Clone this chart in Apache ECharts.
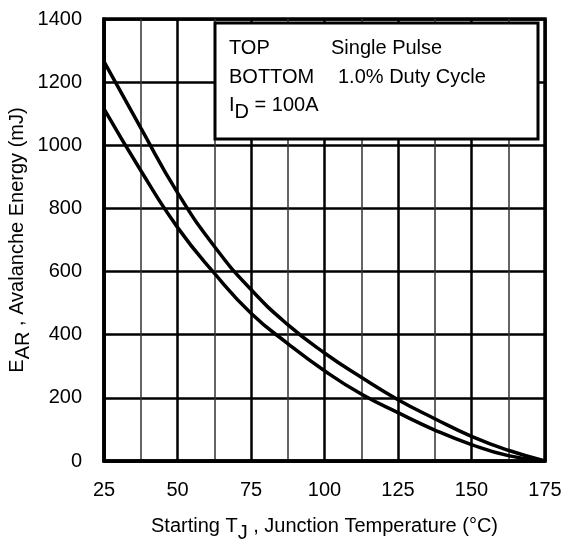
<!DOCTYPE html>
<html>
<head>
<meta charset="utf-8">
<script src="https://cdn.jsdelivr.net/npm/echarts@6/dist/echarts.min.js"></script>
<style>
  html, body { margin: 0; padding: 0; background: #fff; }
  #chart { width: 565px; height: 540px; }
</style>
</head>
<body>
<div id="chart"></div>
<script>
// starting junction temperature (°C)
const temps = [25, 37.5, 50, 62.5, 75, 87.5, 100, 112.5, 125, 137.5, 150, 162.5, 175]
// avalanche energy (mJ)
const singlePulse = [1265, 1055, 850, 680, 543, 432, 342, 265, 194, 134, 78, 34, 0]
const dutyCycle = [1115, 920, 740, 595, 468, 372, 286, 212, 153, 98, 52, 17, 0]
const xTicks = [25, 175, 25] // min, max, interval
const yTicks = [0, 1400, 200]

const FONT = 'Liberation Sans'
const FS = 20

function pairs(xs, ys) {
  return xs.map((x, i) => [x, ys[i]])
}

// text with one lowered (subscript) part
function subRich(pad) {
  return {
    a: { fontFamily: FONT, fontSize: FS, color: '#000', fill: '#000', verticalAlign: 'top' },
    sub: { fontFamily: FONT, fontSize: FS, color: '#000', fill: '#000', verticalAlign: 'top', padding: [pad, 0, 0, 0] }
  }
}

const chart = echarts.init(document.getElementById('chart'), null, { renderer: 'canvas' })

const lineStyle = { color: '#000', width: 3.5 }

const option = {
  animation: false,
  backgroundColor: '#fff',
  grid: {
    left: 104, right: 20, top: 19, bottom: 79,
    outerBoundsMode: 'none',
    containLabel: false,
    show: true, borderColor: '#000', borderWidth: 3.5
  },
  xAxis: {
    type: 'value',
    min: xTicks[0], max: xTicks[1], interval: xTicks[2],
    axisLine: { show: true, lineStyle: { color: '#000', width: 3.5 } },
    axisTick: { show: false },
    axisLabel: { color: '#000', fontFamily: FONT, fontSize: FS, margin: 19 },
    splitLine: { show: true, lineStyle: { color: '#000', width: 2.5 } },
    minorTick: { show: false, splitNumber: 2 },
    minorSplitLine: { show: true, lineStyle: { color: '#333', width: 1.5 } },
    name: '{a|Starting T}{sub|J}{a| , Junction Temperature (°C)}',
    nameLocation: 'middle',
    nameGap: 55,
    nameMoveOverlap: false,
    nameTextStyle: { fontFamily: FONT, color: '#000', rich: subRich(7) }
  },
  yAxis: {
    type: 'value',
    min: yTicks[0], max: yTicks[1], interval: yTicks[2],
    axisLine: { show: true, lineStyle: { color: '#000', width: 3.5 } },
    axisTick: { show: false },
    axisLabel: { color: '#000', fontFamily: FONT, fontSize: FS, margin: 22, formatter: v => String(v) },
    splitLine: { show: true, lineStyle: { color: '#000', width: 2.5 } },
    name: '{a|E}{sub|AR}{a| , Avalanche Energy (mJ)}',
    nameLocation: 'middle',
    nameRotate: 90,
    nameGap: 71,
    nameMoveOverlap: false,
    nameTextStyle: { fontFamily: FONT, color: '#000', rich: subRich(6) }
  },
  series: [
    {
      name: 'Single Pulse',
      type: 'line',
      data: pairs(temps, singlePulse),
      smooth: 0.5,
      showSymbol: false,
      lineStyle: lineStyle,
      z: 3
    },
    {
      name: '1.0% Duty Cycle',
      type: 'line',
      data: pairs(temps, dutyCycle),
      smooth: 0.5,
      showSymbol: false,
      lineStyle: lineStyle,
      z: 3
    }
  ],
  graphic: [
    {
      type: 'rect',
      shape: { x: 215, y: 23, width: 323, height: 116 },
      style: { fill: '#fff', stroke: '#000', lineWidth: 3 },
      z: 10
    },
    {
      type: 'text', left: 229, top: 38, z: 11,
      style: { text: 'TOP', font: FS + 'px ' + FONT, fill: '#000' }
    },
    {
      type: 'text', left: 331, top: 38, z: 11,
      style: { text: 'Single Pulse', font: FS + 'px ' + FONT, fill: '#000' }
    },
    {
      type: 'text', left: 229, top: 67, z: 11,
      style: { text: 'BOTTOM', font: FS + 'px ' + FONT, fill: '#000' }
    },
    {
      type: 'text', left: 338, top: 67, z: 11,
      style: { text: '1.0% Duty Cycle', font: FS + 'px ' + FONT, fill: '#000' }
    },
    {
      type: 'text', left: 229, top: 95, z: 11,
      style: { text: '{a|I}{sub|D}{a| = 100A}', fill: '#000', rich: subRich(7) }
    }
  ]
}

chart.setOption(option)
</script>
</body>
</html>
